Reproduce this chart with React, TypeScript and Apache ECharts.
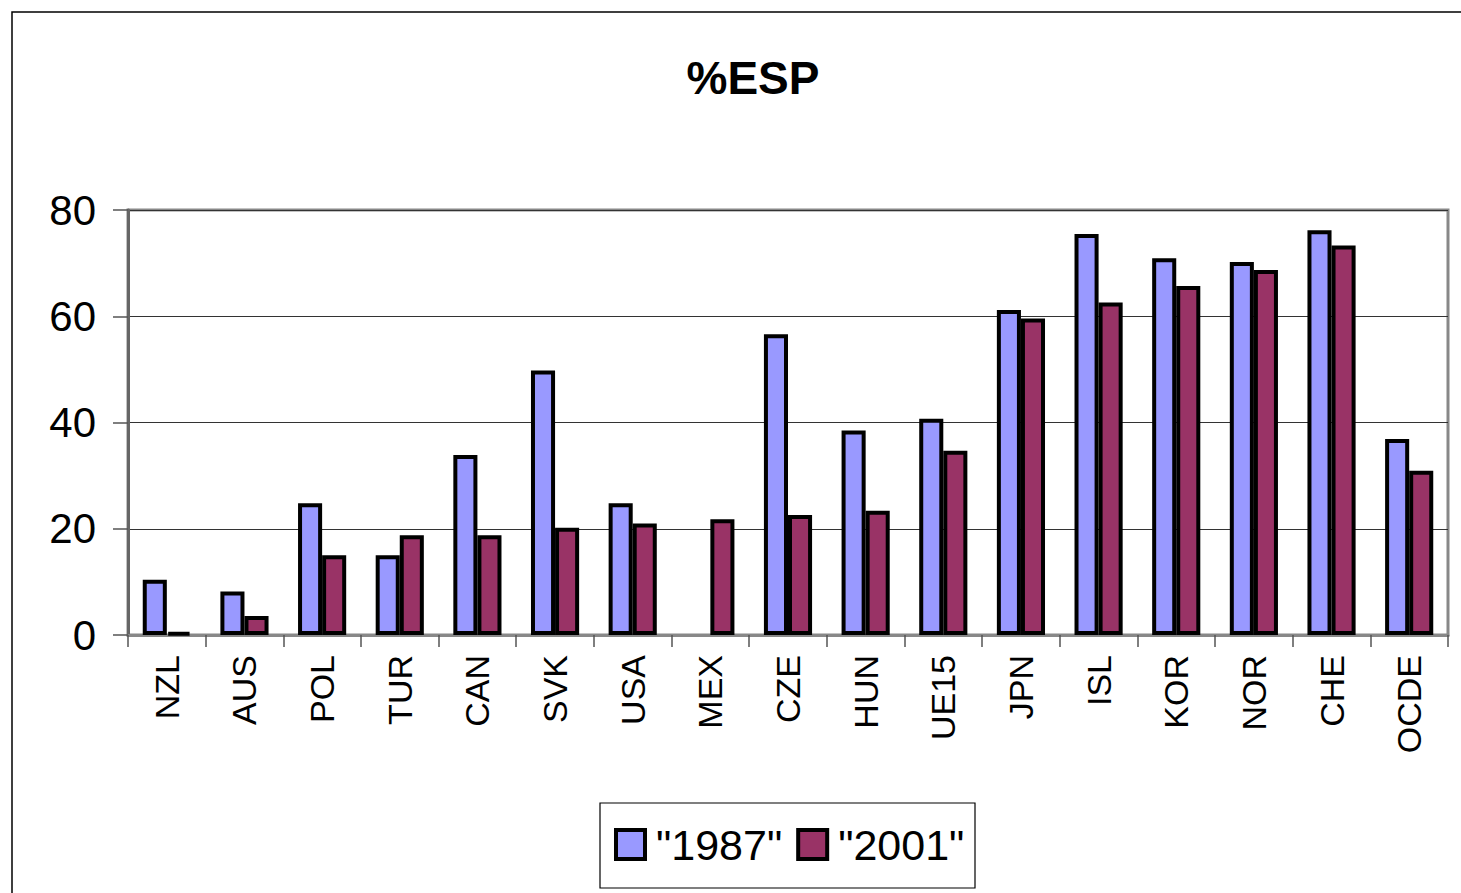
import React, { useEffect, useRef } from "react";
import * as echarts from "echarts";

const categories = ["NZL", "AUS", "POL", "TUR", "CAN", "SVK", "USA", "MEX", "CZE", "HUN", "UE15", "JPN", "ISL", "KOR", "NOR", "CHE", "OCDE"];
const values1987: (number | null)[] = [10.4, 8.2, 24.8, 15.0, 33.9, 49.8, 24.8, null, 56.6, 38.5, 40.7, 61.2, 75.5, 70.9, 70.2, 76.2, 36.9];
const values2001: number[] = [0.5, 3.6, 15.0, 18.8, 18.8, 20.2, 21.0, 21.8, 22.6, 23.4, 34.7, 59.6, 62.6, 65.7, 68.7, 73.3, 30.9];
const seriesNames = ['"1987"', '"2001"'];
const titleText = "%ESP";

export default function App() {
  const ref = useRef<HTMLDivElement>(null);
  useEffect(() => {
    if (!ref.current) return;
    const chart = echarts.init(ref.current, undefined, { renderer: "svg" });
    const font = "Liberation Sans, Arial, sans-serif";
    chart.setOption({
      animation: false,
      backgroundColor: "#ffffff",
      title: {
        text: titleText,
        left: 748,
        top: 50,
        textAlign: "center",
        textStyle: { fontFamily: font, fontWeight: "bold", fontSize: 46, color: "#000" },
      },
      legend: {
        left: 614,
        top: 823,
        padding: [0, 0, 0, 0],
        borderWidth: 0,
        itemWidth: 29,
        itemHeight: 29,
        itemGap: 14,
        icon: "rect",
        textStyle: { fontFamily: font, fontSize: 43, color: "#000", padding: [0, 0, 0, 6] },
        data: seriesNames.map((n) => ({ name: n, itemStyle: { borderColor: "#000", borderWidth: 4 } })),
      },
      graphic: [
        {
          type: "rect",
          shape: { x: 12, y: 12, width: 1470, height: 900 },
          style: { fill: "none", stroke: "#000", lineWidth: 1.5 },
          silent: true,
          z: -1,
        },
        {
          type: "rect",
          shape: { x: 600, y: 803, width: 375, height: 85 },
          style: { fill: "none", stroke: "#000", lineWidth: 1.2 },
          silent: true,
        },
      ],
      grid: {
        left: 128,
        right: 13,
        top: 210,
        bottom: 258,
        show: true,
        borderColor: "#888",
        borderWidth: 3,
      },
      xAxis: {
        type: "category",
        data: categories,
        axisLine: { lineStyle: { color: "#888", width: 3 } },
        axisTick: { show: true, length: 12, lineStyle: { color: "#555", width: 1.5 } },
        axisLabel: {
          rotate: 90,
          fontFamily: font,
          fontSize: 34,
          color: "#000",
          margin: 20,
        },
      },
      yAxis: {
        type: "value",
        min: 0,
        max: 80,
        interval: 20,
        axisLine: { show: true, lineStyle: { color: "#666", width: 3 } },
        axisTick: { show: true, length: 15, lineStyle: { color: "#555", width: 1.5 } },
        splitLine: { lineStyle: { color: "#333", width: 1 } },
        axisLabel: { fontFamily: font, fontSize: 42, color: "#000", margin: 32 },
      },
      series: [
        {
          name: seriesNames[0],
          type: "bar",
          data: values1987,
          barGap: "0%",
          barCategoryGap: "38%",
          itemStyle: { color: "#9999FF", borderColor: "#000", borderWidth: 4 },
        },
        {
          name: seriesNames[1],
          type: "bar",
          data: values2001,
          barGap: "0%",
          barCategoryGap: "38%",
          itemStyle: { color: "#993366", borderColor: "#000", borderWidth: 4 },
        },
      ],
    });
    return () => chart.dispose();
  }, []);
  return (
    <div
      ref={ref}
      style={{ position: "absolute", left: 0, top: 0, width: 1461, height: 893 }}
    />
  );
}
